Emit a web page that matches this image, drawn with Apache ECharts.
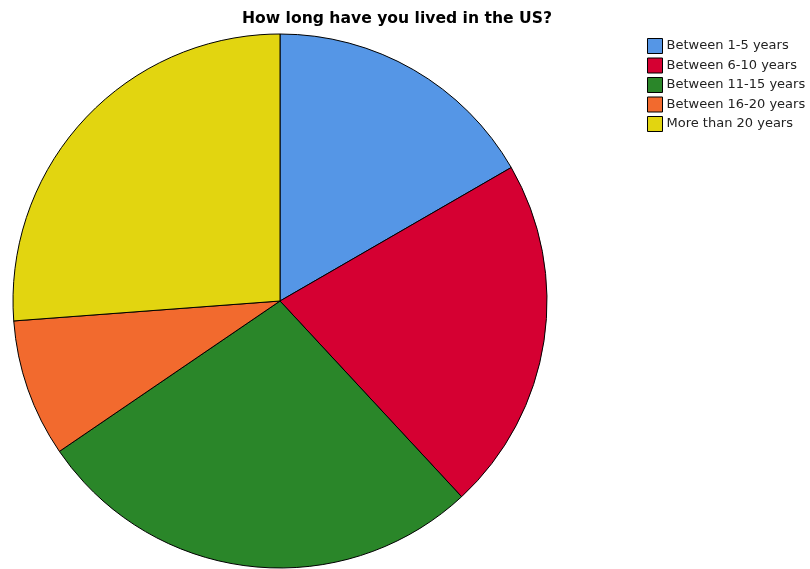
<!DOCTYPE html>
<html>
<head>
<meta charset="utf-8">
<script src="https://cdn.jsdelivr.net/npm/echarts@6/dist/echarts.min.js"></script>
<style>
  html, body { margin: 0; padding: 0; background: #fff; }
  #chart { width: 810px; height: 569px; }
</style>
</head>
<body>
<div id="chart"></div>
<script>
// Residence duration groups and respondent counts
const categories = ['Between 1-5 years', 'Between 6-10 years', 'Between 11-15 years', 'Between 16-20 years', 'More than 20 years'];
const counts = [14, 18, 23, 7, 22];
const colors = ['#5596E6', '#D50032', '#2A8629', '#F26A2E', '#E2D510'];

const chart = echarts.init(document.getElementById('chart'));
chart.setOption({
  animation: false,
  backgroundColor: '#ffffff',
  title: {
    text: 'How long have you lived in the US?',
    left: 242,
    top: 11,
    padding: 0,
    textStyle: { fontFamily: 'DejaVu Sans, sans-serif', fontSize: 15.6, fontWeight: 'bold', color: '#000' }
  },
  legend: {
    orient: 'vertical',
    left: 647,
    top: 38,
    padding: 0,
    itemWidth: 15,
    itemHeight: 15,
    itemGap: 3.5,
    icon: 'rect',
    data: categories,
    textStyle: { fontFamily: 'DejaVu Sans, sans-serif', fontSize: 13, lineHeight: 15, color: '#222', padding: [0, 0, 0, -1] },
    itemStyle: { borderColor: '#000', borderWidth: 1 }
  },
  series: [{
    type: 'pie',
    center: [280, 301],
    radius: [0, 267],
    startAngle: 90,
    clockwise: true,
    label: { show: false },
    labelLine: { show: false },
    emphasis: { disabled: true },
    itemStyle: { borderColor: '#000', borderWidth: 1 },
    data: categories.map((name, i) => ({ name, value: counts[i], itemStyle: { color: colors[i] } }))
  }]
});
</script>
</body>
</html>
